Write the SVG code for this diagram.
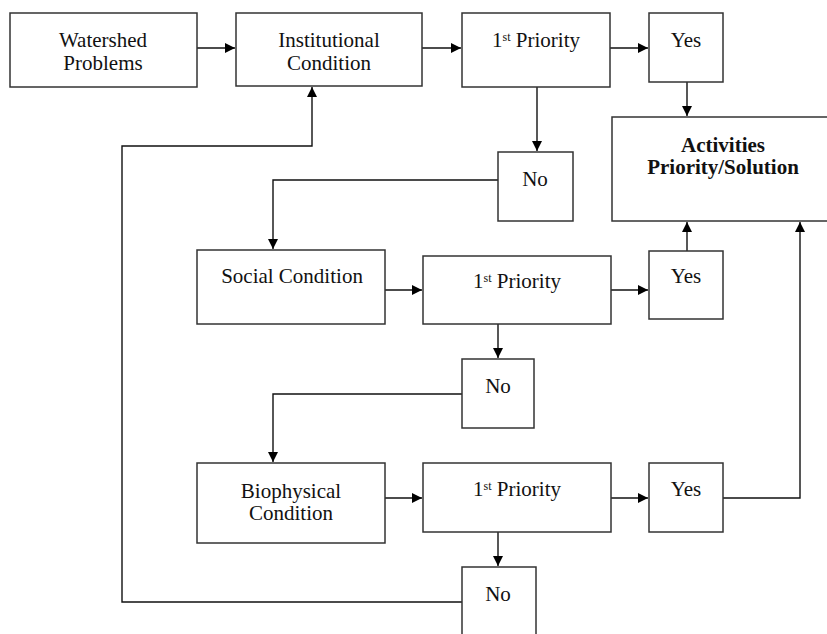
<svg xmlns="http://www.w3.org/2000/svg" width="827" height="634" viewBox="0 0 827 634">
<style>
.box{fill:#fff;stroke:#333;stroke-width:1.5}
.t{font-family:'Liberation Serif','Times New Roman',Times,serif;font-size:21px;fill:#111;text-anchor:middle}
.b{font-weight:bold}
.sup{font-size:12px}
.c{fill:none;stroke:#111;stroke-width:1.4}
</style>
<defs>
<marker id="ah" viewBox="0 0 10 10" refX="10" refY="5" markerWidth="10" markerHeight="10" markerUnits="userSpaceOnUse" orient="auto">
<path d="M0,0 L10,5 L0,10 z" fill="#000"/>
</marker>
</defs>
<rect width="827" height="634" fill="#fff"/>
<g id="connectors">
<path class="c" d="M197,48 H235" marker-end="url(#ah)"/>
<path class="c" d="M422,48 H461" marker-end="url(#ah)"/>
<path class="c" d="M610,48 H648" marker-end="url(#ah)"/>
<path class="c" d="M687,82 V116" marker-end="url(#ah)"/>
<path class="c" d="M537,87 V151" marker-end="url(#ah)"/>
<path class="c" d="M498,180 H273 V249" marker-end="url(#ah)"/>
<path class="c" d="M385,290 H422" marker-end="url(#ah)"/>
<path class="c" d="M611,290 H648" marker-end="url(#ah)"/>
<path class="c" d="M687,251 V222" marker-end="url(#ah)"/>
<path class="c" d="M498,324 V358" marker-end="url(#ah)"/>
<path class="c" d="M462,394 H273 V462" marker-end="url(#ah)"/>
<path class="c" d="M385,498 H422" marker-end="url(#ah)"/>
<path class="c" d="M611,498 H648" marker-end="url(#ah)"/>
<path class="c" d="M723,498 H800 V222" marker-end="url(#ah)"/>
<path class="c" d="M498,532 V566" marker-end="url(#ah)"/>
<path class="c" d="M462,602 H122 V146 H312 V87" marker-end="url(#ah)"/>
</g>
<g id="watershed">
<rect class="box" x="10" y="13" width="187" height="74"/>
<text class="t" x="103" y="47">Watershed</text>
<text class="t" x="103" y="70">Problems</text>
</g>
<g id="institutional">
<rect class="box" x="236" y="13" width="186" height="73"/>
<text class="t" x="329" y="47">Institutional</text>
<text class="t" x="329" y="70">Condition</text>
</g>
<g id="priority1">
<rect class="box" x="462" y="13" width="148" height="74"/>
<text class="t" x="536" y="47">1<tspan class="sup" dy="-6">st</tspan><tspan dy="6"> Priority</tspan></text>
</g>
<g id="yes1">
<rect class="box" x="649" y="13" width="74" height="69"/>
<text class="t" x="686" y="47">Yes</text>
</g>
<g id="activities">
<rect class="box" x="612" y="117" width="216" height="104"/>
<text class="t b" x="723" y="152">Activities</text>
<text class="t b" x="723" y="174">Priority/Solution</text>
</g>
<g id="no1">
<rect class="box" x="498" y="152" width="75" height="69"/>
<text class="t" x="535" y="186">No</text>
</g>
<g id="social">
<rect class="box" x="197" y="250" width="188" height="74"/>
<text class="t" x="292" y="283">Social Condition</text>
</g>
<g id="priority2">
<rect class="box" x="423" y="256" width="188" height="68"/>
<text class="t" x="517" y="288">1<tspan class="sup" dy="-6">st</tspan><tspan dy="6"> Priority</tspan></text>
</g>
<g id="yes2">
<rect class="box" x="649" y="251" width="74" height="68"/>
<text class="t" x="686" y="283">Yes</text>
</g>
<g id="no2">
<rect class="box" x="462" y="359" width="72" height="69"/>
<text class="t" x="498" y="393">No</text>
</g>
<g id="biophysical">
<rect class="box" x="197" y="463" width="188" height="80"/>
<text class="t" x="291" y="498">Biophysical</text>
<text class="t" x="291" y="520">Condition</text>
</g>
<g id="priority3">
<rect class="box" x="423" y="463" width="188" height="69"/>
<text class="t" x="517" y="496">1<tspan class="sup" dy="-6">st</tspan><tspan dy="6"> Priority</tspan></text>
</g>
<g id="yes3">
<rect class="box" x="649" y="463" width="74" height="69"/>
<text class="t" x="686" y="496">Yes</text>
</g>
<g id="no3">
<rect class="box" x="462" y="567" width="74" height="70"/>
<text class="t" x="498" y="601">No</text>
</g>
</svg>
